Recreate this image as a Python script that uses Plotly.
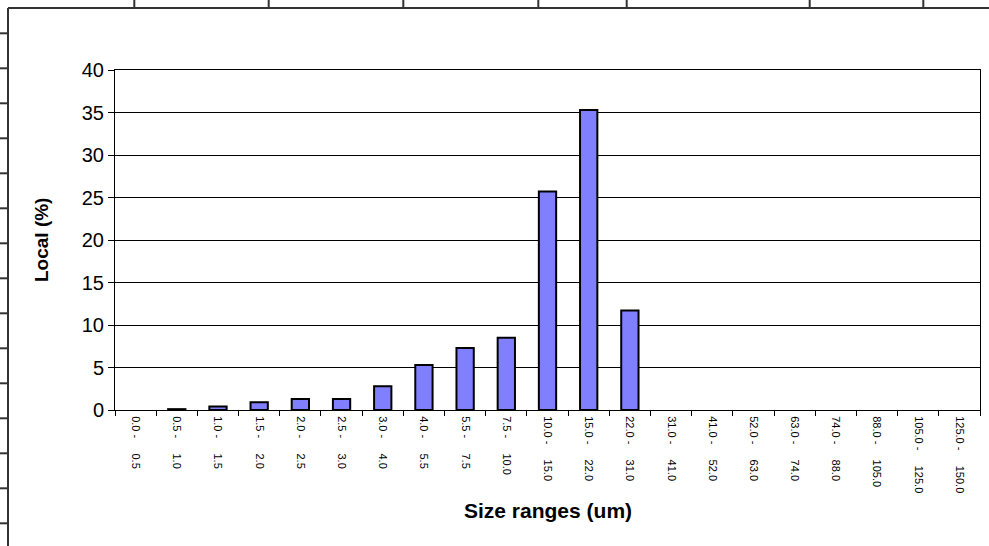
import plotly.graph_objects as go

# Particle size distribution data
size_ranges = [
    "0.0 - 0.5", "0.5 - 1.0", "1.0 - 1.5", "1.5 - 2.0", "2.0 - 2.5", "2.5 - 3.0",
    "3.0 - 4.0", "4.0 - 5.5", "5.5 - 7.5", "7.5 - 10.0", "10.0 - 15.0",
    "15.0 - 22.0", "22.0 - 31.0", "31.0 - 41.0", "41.0 - 52.0", "52.0 - 63.0",
    "63.0 - 74.0", "74.0 - 88.0", "88.0 - 105.0", "105.0 - 125.0", "125.0 - 150.0",
]
local_pct = [0.0, 0.1, 0.4, 0.9, 1.3, 1.3, 2.8, 5.3, 7.3, 8.5, 25.7,
             35.3, 11.7, 0.0, 0.0, 0.0, 0.0, 0.0, 0.0, 0.0, 0.0]
y_ticks = [0, 5, 10, 15, 20, 25, 30, 35, 40]

# Page geometry (pixels)
W_PAGE, H_PAGE = 989, 546
M_L, M_R, M_T, M_B = 115, 9, 70, 136
PW = W_PAGE - M_L - M_R
PH = H_PAGE - M_T - M_B


def px_x(px):
    return (px - M_L) / PW


def px_y(py):
    return (H_PAGE - M_B - py) / PH


NBSP = "\u00a0"
tick_text = [r.replace(" - ", NBSP + "-" + NBSP * 5) for r in size_ranges]

font_family = "Liberation Sans, Arial, sans-serif"

# Empty classes get no outline
outline_widths = [2 if v > 0 else 0 for v in local_pct]

fig = go.Figure(
    go.Bar(
        x=size_ranges,
        y=local_pct,
        marker=dict(color="#8080FF", line=dict(color="#000000", width=outline_widths)),
    )
)

# Worksheet cell borders around the embedded chart
shapes = []
frame = dict(color="#333333", width=2)
shapes.append(dict(type="line", xref="paper", yref="paper",
                   x0=px_x(8), x1=px_x(8), y0=px_y(8), y1=px_y(H_PAGE), line=frame))
shapes.append(dict(type="line", xref="paper", yref="paper",
                   x0=px_x(8), x1=px_x(W_PAGE), y0=px_y(8), y1=px_y(8), line=frame))
for cx in [134.3, 268.7, 403.3, 538.3, 626.7, 809.7, 923.3]:
    shapes.append(dict(type="line", xref="paper", yref="paper",
                       x0=px_x(cx), x1=px_x(cx), y0=px_y(0), y1=px_y(8), line=frame))
for k in range(15):
    cy = 33.3 + 35 * k
    shapes.append(dict(type="line", xref="paper", yref="paper",
                       x0=px_x(0), x1=px_x(8), y0=px_y(cy), y1=px_y(cy), line=frame))

fig.update_layout(
    width=W_PAGE,
    height=H_PAGE,
    margin=dict(l=M_L, r=M_R, t=M_T, b=M_B, pad=0),
    paper_bgcolor="white",
    plot_bgcolor="white",
    showlegend=False,
    bargap=0.58,
    font=dict(family=font_family, color="#000000"),
    shapes=shapes,
    xaxis=dict(
        type="category",
        tickmode="array",
        tickvals=size_ranges,
        ticktext=tick_text,
        tickson="boundaries",
        ticks="outside",
        ticklen=5,
        tickcolor="#000000",
        tickangle=90,
        ticklabelstandoff=3,
        tickfont=dict(size=11, family=font_family),
        showgrid=False,
        showline=True,
        linecolor="#000000",
        linewidth=1,
        mirror=True,
    ),
    yaxis=dict(
        range=[0, 40],
        tickmode="array",
        tickvals=y_ticks,
        ticks="outside",
        ticklen=6,
        tickcolor="#000000",
        tickfont=dict(size=20, family=font_family),
        showgrid=True,
        gridcolor="#000000",
        gridwidth=1,
        zeroline=False,
        showline=True,
        linecolor="#000000",
        linewidth=1,
        mirror=True,
    ),
    annotations=[
        dict(text="<b>Local (%)</b>", xref="paper", yref="paper",
             x=px_x(41), y=0.5, textangle=-90, showarrow=False,
             xanchor="center", yanchor="middle",
             font=dict(size=19, family=font_family)),
        dict(text="<b>Size ranges (um)</b>", xref="paper", yref="paper",
             x=0.5, y=px_y(510), showarrow=False,
             xanchor="center", yanchor="middle",
             font=dict(size=21, family=font_family)),
    ],
)

fig.write_html("out.html")
